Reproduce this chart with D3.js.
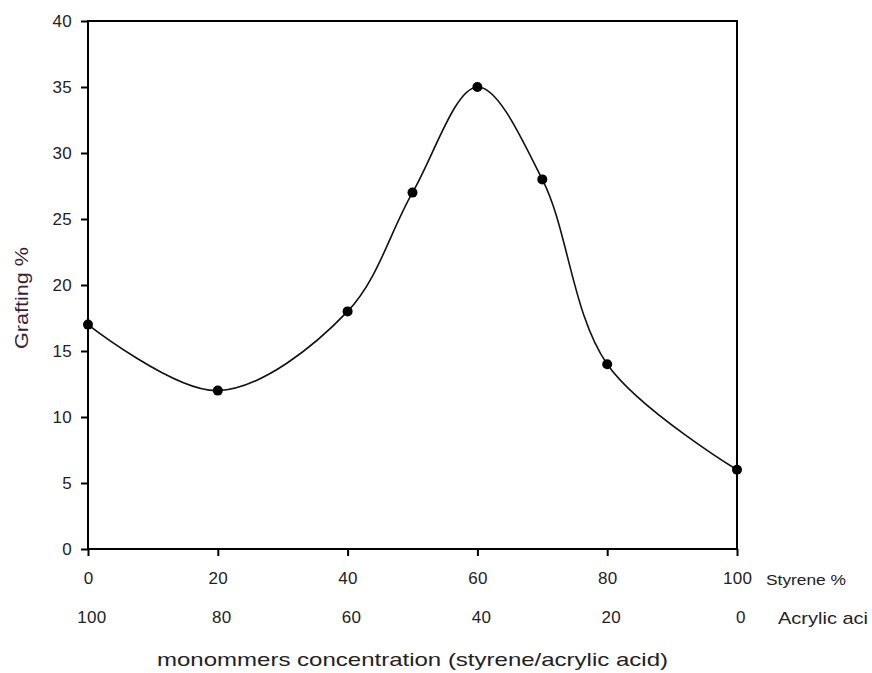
<!DOCTYPE html>
<html><head><meta charset="utf-8">
<script src="https://cdn.jsdelivr.net/npm/d3@7"></script>
<style>body{margin:0;background:#fff;} svg{display:block;font-family:Arial,"Liberation Sans",sans-serif;}</style>
</head><body>
<svg id="c" width="872" height="673"></svg>
<script>
const styrene = [0, 20, 40, 50, 60, 70, 80, 100];
const grafting = [17, 12, 18, 27, 35, 28, 14, 6];
const xTicks = [0, 20, 40, 60, 80, 100];
const acrylicLabels = ["100", "80", "60", "40", "20", "0"];
const yTicks = [0, 5, 10, 15, 20, 25, 30, 35, 40];

const svg = d3.select("#c");
const L = 88, R = 737, T = 21, B = 549;
const x = d3.scaleLinear().domain([0, 100]).range([L, R]);
const y = d3.scaleLinear().domain([0, 40]).range([B, T]);
const txt = "#222";
const ff = "Arial,'Liberation Sans',sans-serif";

// frame
svg.append("rect").attr("x", L).attr("y", T).attr("width", R - L).attr("height", B - T)
  .attr("fill", "none").attr("stroke", "#000").attr("stroke-width", 2);

// y axis
const yAx = svg.append("g").attr("transform", `translate(${L},0)`)
  .call(d3.axisLeft(y).tickValues(yTicks).tickSize(7).tickPadding(9));
yAx.select(".domain").remove();
yAx.selectAll("line").attr("stroke", "#000").attr("stroke-width", 2);
yAx.selectAll("text").attr("font-size", 17).attr("fill", txt).attr("font-family", ff).attr("letter-spacing", 0.3);

// x axis
const xAx = svg.append("g").attr("transform", `translate(0,${B})`)
  .call(d3.axisBottom(x).tickValues(xTicks).tickSize(7).tickPadding(16));
xAx.select(".domain").remove();
xAx.selectAll("line").attr("stroke", "#000").attr("stroke-width", 2);
xAx.selectAll("text").attr("font-size", 17).attr("fill", txt).attr("font-family", ff).attr("letter-spacing", 0.3);

// second row labels (acrylic acid %)
svg.append("g").selectAll("text").data(xTicks).join("text")
  .attr("x", (d) => x(d) + 4).attr("y", 623)
  .attr("text-anchor", "middle").attr("font-size", 17).attr("fill", txt).attr("letter-spacing", 0.3)
  .text((d, i) => acrylicLabels[i]);

svg.append("text").attr("x", 766).attr("y", 585).attr("font-size", 14).attr("fill", txt)
  .attr("textLength", 80).attr("lengthAdjust", "spacingAndGlyphs").text("Styrene %");
svg.append("text").attr("x", 778).attr("y", 624).attr("font-size", 17).attr("fill", txt)
  .attr("textLength", 90).attr("lengthAdjust", "spacingAndGlyphs").text("Acrylic aci");

// axis titles
svg.append("text").attr("x", 157).attr("y", 666).attr("font-size", 19).attr("fill", txt)
  .attr("textLength", 511).attr("lengthAdjust", "spacingAndGlyphs")
  .text("monommers concentration (styrene/acrylic acid)");
svg.append("text").attr("transform", "translate(28,349) rotate(-90)").attr("font-size", 19).attr("fill", "#3a2233")
  .attr("textLength", 102).attr("lengthAdjust", "spacingAndGlyphs").text("Grafting %");

// curve
const pts = styrene.map((s, i) => [s, grafting[i]]);
const line = d3.line().x(d => x(d[0])).y(d => y(d[1])).curve(d3.curveCatmullRom.alpha(0.5));
svg.append("path").attr("d", line(pts)).attr("fill", "none").attr("stroke", "#111").attr("stroke-width", 1.6);

svg.append("g").selectAll("circle").data(pts).join("circle")
  .attr("cx", d => x(d[0])).attr("cy", d => y(d[1])).attr("r", 5).attr("fill", "#000");
</script>
</body></html>
